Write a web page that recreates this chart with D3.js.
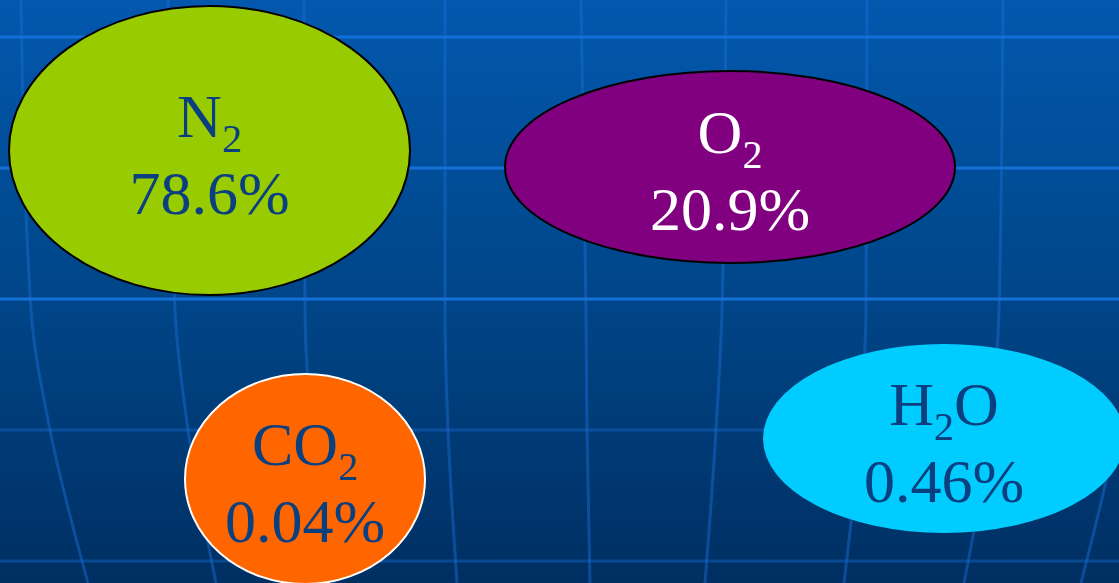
<!DOCTYPE html>
<html>
<head>
<meta charset="utf-8">
<script src="https://cdn.jsdelivr.net/npm/d3@7"></script>
<style>
  body { margin: 0; overflow: hidden; background: #003062; }
  svg { display: block; }
  text { font-family: "Liberation Serif", "Times New Roman", serif; }
</style>
</head>
<body>
<div id="viz-container"></div>
<script>
// gases in the air and their share
const gases = ["N2", "O2", "CO2", "H2O"];
const percents = [78.6, 20.9, 0.04, 0.46];
const percentLabels = ["78.6%", "20.9%", "0.04%", "0.46%"];

// where each bubble sits (cx, cy, rx, ry)
const bubbleLayout = [
  [209.5, 150.5, 200.5, 144.5],
  [730, 167, 225, 96],
  [305, 479, 120, 105],
  [944, 438.5, 181, 94.5]
];
const fillColors = ["#99cc00", "#800080", "#ff6600", "#00ccff"];
const edgeColors = ["#000000", "#000000", "#ffffff", "none"];
const textColors = ["#0a3f80", "#ffffff", "#0a3f80", "#0a3f80"];

// background grid
const gridRowsY = [0, 310, 430, 583];
const gridCols = [
  [21, 31, 50, 88],
  [168, 175, 188, 216],
  [304, 305, 312, 334],
  [445, 445, 448, 457],
  [581, 586, 587, 590],
  [726, 722, 716, 705],
  [867, 866, 860, 844],
  [1003, 999, 990, 964],
  [1145, 1136, 1117, 1081]
];
const brightLinesY = [37, 168, 299];
const faintLinesY = [430, 561];

const width = 1119, height = 583;

const svg = d3.select("#viz-container").append("svg")
    .attr("width", width).attr("height", height);

// gradient for the backdrop
const grad = svg.append("defs").append("linearGradient")
    .attr("id", "bg").attr("x1", 0).attr("y1", 0).attr("x2", 0).attr("y2", 1);
grad.append("stop").attr("offset", "0%").attr("stop-color", "#0358ae");
grad.append("stop").attr("offset", "50%").attr("stop-color", "#004689");
grad.append("stop").attr("offset", "100%").attr("stop-color", "#002f62");

svg.append("rect").attr("width", width).attr("height", height).attr("fill", "url(#bg)");

// curved vertical lines
const line = d3.line()
    .x(d => d[0]).y(d => d[1])
    .curve(d3.curveMonotoneY);

svg.selectAll("path.col")
  .data(gridCols)
  .enter()
  .append("path")
    .attr("class", "col")
    .attr("d", xs => line(xs.map((x, i) => [x, gridRowsY[i]])))
    .attr("fill", "none")
    .attr("stroke", "#1a6fd8")
    .attr("stroke-opacity", 0.45)
    .attr("stroke-width", 3);

svg.selectAll("line.faint")
  .data(faintLinesY)
  .enter()
  .append("line")
    .attr("class", "faint")
    .attr("x1", 0).attr("x2", width)
    .attr("y1", d => d).attr("y2", d => d)
    .attr("stroke", "#1a6fd8")
    .attr("stroke-opacity", 0.4)
    .attr("stroke-width", 3);

svg.selectAll("line.bright")
  .data(brightLinesY)
  .enter()
  .append("line")
    .attr("class", "bright")
    .attr("x1", 0).attr("x2", width)
    .attr("y1", d => d).attr("y2", d => d)
    .attr("stroke", "#1470d8")
    .attr("stroke-width", 3);

// bubbles
const bubbles = svg.selectAll("g.gas")
  .data(gases)
  .enter()
  .append("g")
    .attr("class", "gas")
    .attr("transform", (d, i) => `translate(${bubbleLayout[i][0]},${bubbleLayout[i][1]})`);

bubbles.append("ellipse")
    .attr("rx", (d, i) => bubbleLayout[i][2])
    .attr("ry", (d, i) => bubbleLayout[i][3])
    .attr("fill", (d, i) => fillColors[i])
    .attr("stroke", (d, i) => edgeColors[i])
    .attr("stroke-width", 2);

// formula with subscript digits
const formula = bubbles.append("text")
    .attr("y", -14)
    .attr("text-anchor", "middle")
    .attr("font-size", 62)
    .attr("fill", (d, i) => textColors[i]);

formula.each(function(d) {
  const t = d3.select(this);
  const parts = d.match(/[A-Z]+|\d+/g);
  let shifted = false;
  parts.forEach(p => {
    const isSub = /\d/.test(p);
    const span = t.append("tspan").text(p);
    if (isSub) {
      span.attr("font-size", 40).attr("dy", 15);
      shifted = true;
    } else if (shifted) {
      span.attr("dy", -15);
      shifted = false;
    }
  });
});

bubbles.append("text")
    .attr("y", 63)
    .attr("text-anchor", "middle")
    .attr("font-size", 62)
    .attr("fill", (d, i) => textColors[i])
    .text((d, i) => percentLabels[i]);
</script>
</body>
</html>
